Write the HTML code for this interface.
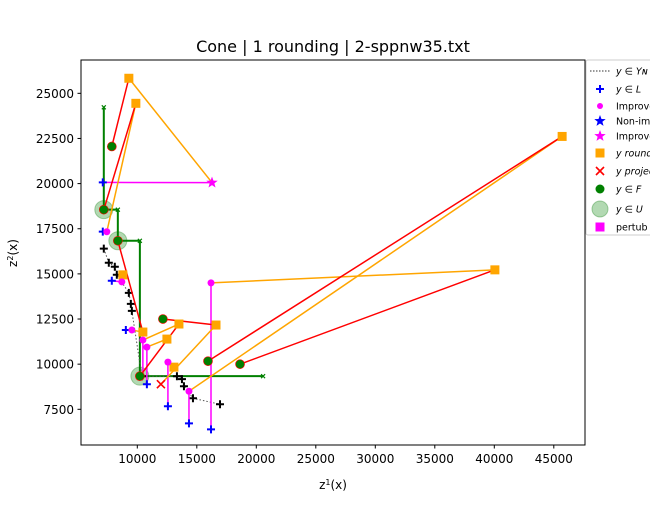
<!DOCTYPE html>
<html><head><meta charset="utf-8"><style>
body{margin:0;background:#fff;}
svg text{font-family:"DejaVu Sans","Liberation Sans",sans-serif;}
</style></head><body>
<svg id="chart" width="650" height="500" xmlns="http://www.w3.org/2000/svg">
<rect x="0" y="0" width="650" height="500" fill="#fff"/>
<text x="333" y="52" font-size="16" text-anchor="middle">Cone | 1 rounding | 2-sppnw35.txt</text>
<g id="plot"></g>
<rect x="81" y="60" width="504" height="385" fill="none" stroke="#000" stroke-width="1"/>
<g id="axes"></g>
<text x="333" y="489" font-size="12" text-anchor="middle">z<tspan baseline-shift="super" font-size="8">1</tspan>(x)</text>
<text transform="translate(17,253) rotate(-90)" font-size="12" text-anchor="middle">z<tspan baseline-shift="super" font-size="8">2</tspan>(x)</text>
<g id="legend">
<rect x="586" y="60" width="70" height="175" fill="#fff" stroke="#ccc" rx="2"/>
</g>
</svg>
<script>
const xTicks=[10000,15000,20000,25000,30000,35000,40000,45000];
const yTicks=[7500,10000,12500,15000,17500,20000,22500,25000];
const ynX=[7185,7606,8111,8279,9290,9458,9542,10384,13331,13752,13920,14678,16950];
const ynY=[16396,15618,15395,14950,13950,13340,12950,9330,9330,9170,8780,8110,7780];
const lX=[7100,7100,7858,9037,10805,12573,14342,16194];
const lY=[20066,17340,14617,11892,8890,7667,6722,6388];
const impX=[7438,8700,9542,10468,10805,12573,14341,16193];
const impY=[17334,14556,11889,11334,10945,10111,8500,14500];
const starX=[16277], starY=[20056];
const rndX=[9290,9879,8785,10468,12489,13499,16614,13078,45700,40050];
const rndY=[25834,24446,14945,11778,11389,12223,12167,9834,22612,15223];
const fX=[7859,7185,8364,10216,12152,15940,18634];
const fY=[22057,18557,16834,9334,12500,10167,10000];
const uX=[7185,8364,10216], uY=[18557,16834,9334];
const projX=[11984], projY=[8889];
const frontX=[7185,7185,8364,8364,10216,10216,20570];
const frontY=[24223,18557,18557,16834,16834,9334,9334];
const magSeg=[[7100,20066,16277,20056],[7100,17340,7438,17334],[7858,14617,8700,14556],[9037,11892,9542,11889],[10468,11334,10468,9330],[10805,10945,10805,8890],[12573,10111,12573,7667],[14341,8500,14342,6722],[16193,14500,16194,6388]];
const orgSeg=[[16277,20056,9290,25834],[7438,17334,9879,24446],[8700,14556,8785,14945],[9542,11889,10468,11778],[10468,11334,13499,12223],[10805,10945,12489,11389],[12573,10111,13078,9834],[14341,8500,45700,22612],[16193,14500,40050,15223],[11984,8889,16614,12167]];
const redSeg=[[7859,22057,9290,25834],[7185,18557,9879,24446],[8364,16834,10468,11778],[10216,9334,13499,12223],[12152,12500,16614,12167],[15940,10167,45700,22612],[18634,10000,40050,15223]];

const NS="http://www.w3.org/2000/svg";
const X=v=>137.3+(v-10000)*59.5/5000;
const Y=v=>409.3-(v-7500)*45.14/2500;
const plot=document.getElementById('plot'), axes=document.getElementById('axes');
function mk(tag,attrs,parent){const e=document.createElementNS(NS,tag);for(const k in attrs)e.setAttribute(k,attrs[k]);parent.appendChild(e);return e;}
xTicks.forEach(t=>{
 const l=mk('line',{x1:X(t),x2:X(t),y1:445,y2:448.5,stroke:'#000'},axes);
 
 
 const tx=mk('text',{x:X(t),y:463,'font-size':12,'text-anchor':'middle'},axes);tx.textContent=t;
 
 
});
yTicks.forEach(t=>{
 const l=mk('line',{x1:77.5,x2:81,y1:Y(t),y2:Y(t),stroke:'#000'},axes);
 
 
 const tx=mk('text',{x:74,y:Y(t)+4.5,'font-size':12,'text-anchor':'end'},axes);tx.textContent=t;
 
 
});
function plus(x,y,c,name,w){const g=mk('path',{d:`M${x-4},${y}H${x+4}M${x},${y-4}V${y+4}`,stroke:c,'stroke-width':w||2},plot);
 
 }
function seg(s,c,name,w){const l=mk('line',{x1:X(s[0]),y1:Y(s[1]),x2:X(s[2]),y2:Y(s[3]),stroke:c,'stroke-width':w||1.5},plot);
 
 }
uX.forEach((v,i)=>{const c=mk('circle',{cx:X(v),cy:Y(uY[i]),r:9,fill:'#7fbf7f','fill-opacity':0.6,stroke:'#2e8b2e','stroke-opacity':0.4},plot);
 
 });
const fp=mk('polyline',{points:frontX.map((v,i)=>X(v)+','+Y(frontY[i])).join(' '),fill:'none',stroke:'green','stroke-width':2},plot);


[0,2,4,6].forEach(i=>{const x=X(frontX[i]),y=Y(frontY[i]);const m=mk('path',{d:`M${x-2},${y-2}L${x+2},${y+2}M${x+2},${y-2}L${x-2},${y+2}`,stroke:'green','stroke-width':1.2},plot);
 
 });
const yl=mk('polyline',{points:ynX.map((v,i)=>X(v)+','+Y(ynY[i])).join(' '),fill:'none',stroke:'#555','stroke-width':1,'stroke-dasharray':'1.5,2'},plot);


ynX.forEach((v,i)=>plus(X(v),Y(ynY[i]),'#000','yn-point'));
magSeg.forEach(s=>seg(s,'magenta','improve-line'));
lX.forEach((v,i)=>plus(X(v),Y(lY[i]),'blue','l-point'));
orgSeg.forEach(s=>seg(s,'orange','round-line'));
redSeg.forEach(s=>seg(s,'red','project-line'));
rndX.forEach((v,i)=>{const r=mk('rect',{x:X(v)-4.5,y:Y(rndY[i])-4.5,width:9,height:9,fill:'orange'},plot);
 
 });
impX.forEach((v,i)=>{const c=mk('circle',{cx:X(v),cy:Y(impY[i]),r:3.5,fill:'magenta'},plot);
 
 });
starX.forEach((v,i)=>{const x=X(v),y=Y(starY[i]);let d='';for(let k=0;k<10;k++){const a=-Math.PI/2+k*Math.PI/5,r=k%2?2.5:6;d+=(k?'L':'M')+(x+r*Math.cos(a))+','+(y+r*Math.sin(a));}
 const s=mk('path',{d:d+'Z',fill:'magenta'},plot);
 
 });
projX.forEach((v,i)=>{const x=X(v),y=Y(projY[i]);const m=mk('path',{d:`M${x-4},${y-4}L${x+4},${y+4}M${x+4},${y-4}L${x-4},${y+4}`,stroke:'red','stroke-width':1.6},plot);
 
 });
fX.forEach((v,i)=>{const c=mk('circle',{cx:X(v),cy:Y(fY[i]),r:4.5,fill:'green',stroke:'red','stroke-width':0.6},plot);
 
 });
const lg=document.getElementById('legend');
const labels=['y ∈ Yɴ','y ∈ L','Improved','Non-improved','Improved','y rounded','y projected','y ∈ F','y ∈ U','pertub'];
const ly=[71,89,106,121,136,153,171,189,209,227];
labels.forEach((t,i)=>{const y=ly[i],cx=600;
 if(i==0){mk('line',{x1:590,x2:610,y1:y,y2:y,stroke:'#333','stroke-dasharray':'1.5,1.5'},lg);}
 else if(i==1){mk('path',{d:`M${cx-4},${y}H${cx+4}M${cx},${y-4}V${y+4}`,stroke:'blue','stroke-width':2},lg);}
 else if(i==2){mk('circle',{cx:cx,cy:y,r:3,fill:'magenta'},lg);}
 else if(i==3||i==4){let d='';for(let k=0;k<10;k++){const a=-Math.PI/2+k*Math.PI/5,r=k%2?2.5:6;d+=(k?'L':'M')+(cx+r*Math.cos(a))+','+(y+r*Math.sin(a));}mk('path',{d:d+'Z',fill:i==3?'blue':'magenta'},lg);}
 else if(i==5){mk('rect',{x:cx-4.5,y:y-4.5,width:9,height:9,fill:'orange'},lg);}
 else if(i==6){mk('path',{d:`M${cx-4},${y-4}L${cx+4},${y+4}M${cx+4},${y-4}L${cx-4},${y+4}`,stroke:'red','stroke-width':1.6},lg);}
 else if(i==7){mk('circle',{cx:cx,cy:y,r:4.5,fill:'green'},lg);}
 else if(i==8){mk('circle',{cx:cx,cy:y,r:8,fill:'#7fbf7f','fill-opacity':0.6,stroke:'#2e8b2e','stroke-opacity':0.4},lg);}
 else {mk('rect',{x:cx-4.5,y:y-4.5,width:9,height:9,fill:'magenta'},lg);}
 const tx=mk('text',{x:616,y:y+3.5,'font-size':9.5,'font-style':i<2||(i>=5&&i<=8)?'italic':'normal'},lg);tx.textContent=t;
 
 
});
</script>
</body></html>
